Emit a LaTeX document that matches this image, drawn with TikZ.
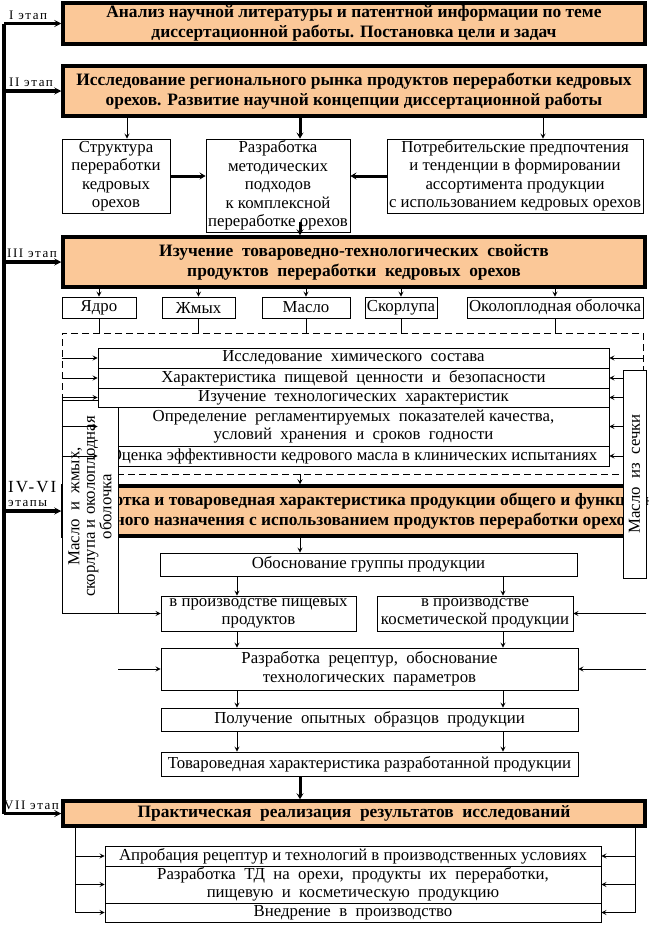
\documentclass[tikz,border=0pt]{standalone}
\usepackage{fontspec}
\setmainfont{Liberation Serif}
\usepackage{tikz}
\usetikzlibrary{shapes.geometric, arrows.meta, positioning}
\definecolor{peach}{RGB}{251,200,152}
\tikzstyle{stage} = [rectangle, line width=3.5pt, draw=black, fill=peach, inner sep=0pt, align=center, font=\bfseries\fontsize{17.4}{20}\selectfont]
\tikzstyle{process} = [rectangle, line width=0.9pt, draw=black, fill=white, inner sep=0pt, align=center]
\tikzstyle{part} = [process, rotate=90, font=\fontsize{16.8}{15.5}\selectfont]
\tikzstyle{dashbox} = [rectangle, line width=0.9pt, draw=black, dash pattern=on 7pt off 4pt, inner sep=0pt]
\tikzstyle{arrow} = [line width=0.9pt, -{Stealth[length=5pt,width=5pt,inset=2pt]}]
\tikzstyle{thickarrow} = [line width=3pt, -{Stealth[length=6pt,width=7pt,inset=2.5pt]}]
\tikzstyle{stagearrow} = [line width=3.5pt, -{Stealth[length=7pt,width=7pt,inset=3pt]}]
\tikzstyle{link} = [line width=0.9pt]
\tikzstyle{barline} = [line width=4pt]
\tikzstyle{stagelabel} = [anchor=south west, inner sep=0pt, yshift=4pt, font=\fontsize{13}{14}\selectfont\addfontfeature{LetterSpace=12}]
\tikzset{wh/.style 2 args={minimum width=#1pt, minimum height=#2pt}}

\begin{document}
\begin{tikzpicture}[x=1pt, y=-1pt, font=\fontsize{16.8}{18.5}\selectfont]
\useasboundingbox (0,0) rectangle (648,926);
\coordinate (bar) at (4,0);
\coordinate (ax1) at (127,0);
\coordinate (mx) at (300,0);
\coordinate (ax3) at (543,0);
\coordinate (lx) at (237,0);
\coordinate (rx) at (503,0);
\coordinate (bl) at (75,0);
\coordinate (br) at (635,0);

\node (st1) [stage, wh={582}{41}] at (354,23.5) {Анализ научной литературы и патентной информации по теме\\диссертационной работы. Постановка цели и задач};
\node (st2) [stage, wh={582}{50}] at (354,91) {Исследование регионального рынка продуктов переработки кедровых\\орехов. Развитие научной концепции диссертационной работы};
\node (struct) [process, wh={108}{74}] at (116,176) {Структура\\переработки\\кедровых\\орехов};
\node (razr) [process, wh={144}{93}] at (278,185.5) {Разработка\\методических\\подходов\\к комплексной\\переработке орехов};
\node (pref) [process, wh={256}{74}] at (515,176) {Потребительские предпочтения\\и тенденции в формировании\\ассортимента продукции\\с использованием кедровых орехов};
\node (st3) [stage, wh={582}{50}] at (354,262) {Изучение~~товароведно-технологических~~свойств\\продуктов~~переработки~~кедровых~~орехов};
\node (kern) [process, wh={74}{21}] at (99,307.5) {Ядро};
\node (cake) [process, wh={73}{21}] at (198.5,307.5) {Жмых};
\node (oil) [process, wh={88}{21}] at (306,307.5) {Масло};
\node (shell) [process, wh={72}{21}] at (401,307.5) {Скорлупа};
\node (husk) [process, wh={176}{21}] at (555,307.5) {Околоплодная оболочка};
\node (tests) [dashbox, wh={581}{141}] at (352.5,403.5) {};
\node (r4) [process, wh={511}{39}] at (353.5,426.5) {Определение~~регламентируемых~~показателей качества,\\условий~~хранения~~и~~сроков~~годности};
\node (r5) [process, wh={511}{20}] at (353.5,456) {Оценка эффективности кедрового масла в клинических испытаниях};
\node (st4) [stage, wh={582}{50}] at (354,511) {\makebox[0pt]{\hspace*{41pt}Разработка и товароведная характеристика продукции общего и функциональ-}\\\makebox[0pt]{\hspace*{41pt}ного назначения с использованием продуктов переработки орехов}};
\node (oilcake) [part, wh={213}{56}] at (90,506.5) {Масло~~и~~жмых,\\скорлупа и околоплодная\\оболочка};
\node (kernoil) [part, wh={208}{23}] at (634.5,474) {Масло~~из~~сечки};
\node (r1) [process, wh={511}{20}] at (353.5,358) {Исследование~~химического~~состава};
\node (r2) [process, wh={511}{20}] at (353.5,378) {Характеристика~~пищевой~~ценности~~и~~безопасности};
\node (r3) [process, wh={511}{19}] at (353.5,397.5) {Изучение~~технологических~~характеристик};
\node (basis) [process, wh={417}{23}] at (368.5,564.5) {Обоснование группы продукции};
\node (food) [process, wh={195}{35}] at (258.5,613.5) {в производстве пищевых\\продуктов};
\node (cosm) [process, wh={196}{35}] at (475,613.5) {в производстве\\косметической продукции};
\node (recipe) [process, wh={417}{42}] at (369.5,669) {Разработка~~рецептур,~~обоснование\\технологических~~параметров};
\node (samples) [process, wh={417}{23}] at (369.5,719.5) {Получение~~опытных~~образцов~~продукции};
\node (goods) [process, wh={417}{24}] at (369.5,764) {Товароведная характеристика разработанной продукции};
\node (st7) [stage, wh={582}{25}] at (354,813.5) {Практическая~~реализация~~результатов~~исследований};
\node (b1) [process, wh={496}{20}] at (353,856) {Апробация рецептур и технологий в производственных условиях};
\node (b2) [process, wh={496}{37}] at (353,884.5) {Разработка~~ТД~~на~~орехи,~~продукты~~их~~переработки,\\пищевую~~и~~косметическую~~продукцию};
\node (b3) [process, wh={496}{19}] at (353,912.5) {Внедрение~~в~~производство};

\draw [barline] (bar |- st1.west) -- (bar |- st7.west);
\foreach \s/\t/\d in {st1/{I этап}/5, st2/{II этап}/5, st3/{III этап}/3, st7/{VII этап}/0} {
  \draw [stagearrow] (bar |- \s.west) -- (\s.west);
  \node (\s-label) [stagelabel, xshift=\d pt] at (bar |- \s.west) {\t};
}
\draw [stagearrow] (bar |- st4.west) -- (st4.west);
\node (st4-label) [stagelabel, xshift=4pt, align=left] at (bar |- st4.west) {{\fontsize{17}{17}\selectfont IV-VI}\\этапы};

\draw [arrow] (ax1 |- st2.south) -- (ax1 |- struct.north);
\draw [thickarrow] (mx |- st2.south) -- (mx |- razr.north);
\draw [arrow] (ax3 |- st2.south) -- (ax3 |- pref.north);
\draw [thickarrow] (struct.east) -- (struct.east -| razr.west);
\draw [thickarrow] (pref.west) -- (pref.west -| razr.east);
\draw [thickarrow] (mx |- razr.south) ++(0,-10) -- (mx |- st3.north);

\foreach \n in {kern,cake,oil,shell,husk} {
  \draw [arrow] (\n |- st3.south) -- (\n.north);
  \draw [link] (\n.south) -- (\n |- tests.north);
}
\foreach \r in {r1,r2,r3,r4,r5}
  \draw [arrow] (tests.west |- \r) -- (\r.west);
\draw [arrow] (tests.east |- r1) -- (r1.east);
\foreach \r in {r2,r3,r4,r5}
  \draw [arrow] (kernoil.north |- \r) -- (\r.east);

\draw [arrow] (mx |- tests.south) -- (mx |- st4.north);
\draw [arrow] (mx |- st4.south) -- (mx |- basis.north);
\draw [arrow] (oilcake.south |- food) -- (food.west);
\draw [arrow] (kernoil.south |- cosm) -- (cosm.east);
\draw [arrow] (oilcake.south |- recipe) -- (recipe.west);
\draw [arrow] (kernoil.south |- recipe) -- (recipe.east);
\foreach \a/\b in {basis/food, food/recipe, recipe/samples, samples/goods}
  \draw [arrow] (lx |- \a.south) -- (lx |- \b.north);
\foreach \a/\b in {basis/cosm, cosm/recipe, recipe/samples, samples/goods}
  \draw [arrow] (rx |- \a.south) -- (rx |- \b.north);
\draw [thickarrow] (mx |- goods.south) -- (mx |- st7.north);

\draw [arrow] (bl |- st7.south) |- (b3.west);
\draw [arrow] (br |- st7.south) |- (b3.east);
\foreach \r in {b1,b2} {
  \draw [arrow] (bl |- \r) -- (\r.west);
  \draw [arrow] (br |- \r) -- (\r.east);
}
\end{tikzpicture}
\end{document}
